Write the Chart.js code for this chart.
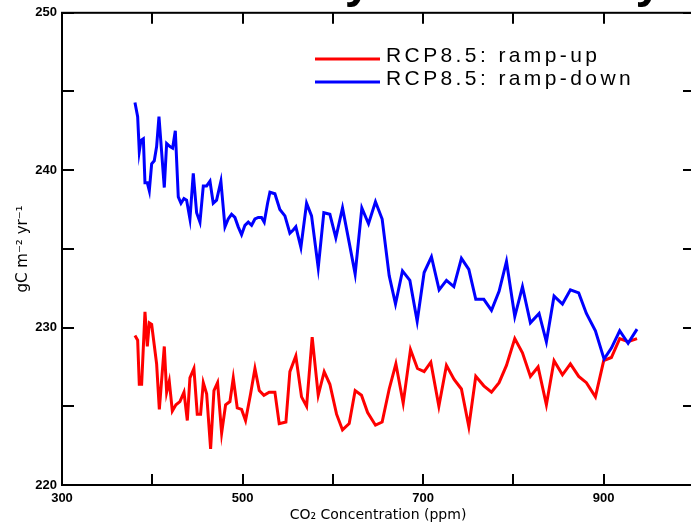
<!DOCTYPE html>
<html>
<head>
<meta charset="utf-8">
<script src="https://cdn.jsdelivr.net/npm/chart.js@4"></script>
<style>
  html, body { margin: 0; padding: 0; background: #fff; overflow: hidden; }
  #wrap { width: 691px; height: 524px; overflow: hidden; }
</style>
</head>
<body>
<div id="wrap"><canvas id="myChart" width="720" height="524"></canvas></div>
<script>
// CO2 (ppm) and NPP (gC m-2 yr-1)
const ppmUp = [380.8, 383.8, 385.6, 388.2, 391.9, 394.5, 396.7, 399.3, 404.8, 407.8, 413.3, 415.9, 418.8, 422.2, 426.2, 430.6, 435.1, 438.8, 441.7, 446.1, 449.8, 453.5, 456.5, 460.2, 464.6, 468.3, 472.3, 476.8, 481.2, 486.0, 489.7, 494.1, 498.9, 503.3, 508.9, 513.7, 518.5, 523.6, 529.5, 535.8, 540.6, 548.0, 552.4, 559.0, 565.3, 570.9, 577.1, 583.8, 590.4, 596.7, 604.1, 610.7, 618.1, 624.7, 631.7, 638.5, 647.2, 654.6, 662.4, 669.8, 677.9, 686.0, 693.7, 701.1, 708.5, 717.4, 725.8, 734.3, 742.4, 750.6, 758.3, 767.2, 775.7, 784.1, 792.3, 801.5, 810.0, 818.8, 827.3, 836.5, 845.0, 854.3, 863.1, 872.3, 880.8, 890.8, 900.0, 908.5, 917.7, 927.0, 936.9];
const nppUp = [229.5, 229.2, 226.4, 226.4, 231.0, 228.8, 230.3, 230.2, 227.7, 224.8, 228.8, 225.9, 226.6, 224.7, 225.1, 225.3, 225.9, 224.1, 226.8, 227.4, 224.5, 224.5, 226.5, 225.8, 222.3, 226.0, 226.5, 223.3, 225.1, 225.3, 226.8, 224.9, 224.8, 224.1, 225.8, 227.4, 226.0, 225.7, 225.9, 225.9, 223.9, 224.0, 227.2, 228.2, 225.6, 225.0, 229.4, 225.7, 227.2, 226.4, 224.5, 223.5, 223.9, 226.0, 225.7, 224.6, 223.8, 224.0, 226.1, 227.7, 225.2, 228.6, 227.4, 227.2, 227.8, 225.0, 227.6, 226.7, 226.1, 223.7, 226.9, 226.3, 225.9, 226.5, 227.6, 229.3, 228.4, 226.9, 227.5, 225.1, 227.9, 227.0, 227.7, 226.9, 226.5, 225.6, 227.9, 228.1, 229.3, 229.1, 229.3];

const ppmDown = [380.8, 383.8, 385.6, 387.5, 390.1, 391.9, 394.5, 396.7, 399.3, 402.2, 404.8, 407.4, 410.3, 413.3, 415.9, 419.6, 422.5, 425.5, 428.8, 431.8, 435.1, 438.0, 441.7, 445.4, 449.1, 452.8, 456.5, 460.2, 463.9, 467.5, 471.2, 476.0, 480.5, 484.1, 487.8, 491.5, 495.2, 498.9, 502.6, 506.3, 510.0, 513.7, 517.4, 521.0, 524.0, 527.7, 530.3, 535.8, 541.3, 546.9, 552.4, 556.1, 559.0, 564.6, 570.9, 576.4, 583.8, 590.0, 596.7, 603.3, 610.7, 618.1, 624.7, 632.1, 639.5, 647.2, 654.6, 662.4, 669.4, 677.1, 685.3, 693.4, 701.1, 709.2, 717.7, 725.8, 734.0, 742.4, 750.6, 758.3, 767.2, 775.7, 784.1, 792.3, 801.5, 810.0, 818.8, 828.4, 836.5, 845.0, 854.3, 863.1, 872.3, 880.8, 890.8, 900.4, 908.5, 917.7, 927.0, 936.9];
const nppDown = [244.3, 243.4, 241.2, 241.9, 242.0, 239.2, 239.2, 238.7, 240.4, 240.6, 241.5, 243.4, 241.2, 238.9, 241.7, 241.5, 241.4, 242.5, 238.3, 237.9, 238.2, 238.1, 236.9, 239.8, 237.3, 236.7, 239.0, 239.0, 239.3, 237.9, 238.1, 239.3, 236.4, 236.9, 237.2, 237.0, 236.4, 235.9, 236.5, 236.7, 236.5, 236.9, 237.0, 237.0, 236.7, 237.9, 238.6, 238.5, 237.5, 237.1, 236.0, 236.2, 236.4, 235.1, 237.9, 237.1, 233.8, 237.3, 237.2, 235.7, 237.6, 235.4, 233.4, 237.6, 236.6, 238.0, 236.9, 233.3, 231.5, 233.6, 233.0, 230.4, 233.5, 234.5, 232.4, 233.0, 232.6, 234.4, 233.7, 231.8, 231.8, 231.1, 232.3, 234.2, 230.7, 232.6, 230.3, 230.9, 229.1, 232.0, 231.5, 232.4, 232.2, 230.9, 229.8, 228.0, 228.7, 229.8, 229.0, 229.9];

const xLabels = [300, 500, 700, 900];
const yLabels = [220, 230, 240, 250];
const seriesNames = ['RCP8.5: ramp-up', 'RCP8.5: ramp-down'];
const titleText = 'Net Primary Productivity';

function pairs(xs, ys) {
    return xs.map((x, i) => ({ x: x, y: ys[i] }));
}

// box, inward ticks, legend and the (cropped) title
const framePlugin = {
    id: 'frame',
    afterDraw(chart) {
        const ctx = chart.ctx;
        const a = chart.chartArea;
        const xs = chart.scales.x, ys = chart.scales.y;
        ctx.save();
        ctx.strokeStyle = '#000';
        ctx.lineWidth = 2;
        ctx.strokeRect(a.left, a.top, a.right - a.left, a.bottom - a.top);
        ctx.beginPath();
        xs.ticks.forEach(t => {
            const px = Math.round(xs.getPixelForValue(t.value));
            ctx.moveTo(px, a.bottom); ctx.lineTo(px, a.bottom - 11);
            ctx.moveTo(px, a.top); ctx.lineTo(px, a.top + 11);
        });
        ys.ticks.forEach(t => {
            const py = Math.round(ys.getPixelForValue(t.value));
            ctx.moveTo(a.left, py); ctx.lineTo(a.left + 12, py);
            ctx.moveTo(a.right, py); ctx.lineTo(a.right - 11, py);
        });
        ctx.stroke();

        // legend
        const rows = [59, 82];
        ctx.font = '21px "Liberation Sans"';
        ctx.letterSpacing = '3.4px';
        ctx.textBaseline = 'middle';
        ctx.fillStyle = '#000';
        chart.data.datasets.forEach((ds, i) => {
            ctx.strokeStyle = ds.borderColor;
            ctx.lineWidth = 3;
            ctx.beginPath();
            ctx.moveTo(315, rows[i]); ctx.lineTo(380, rows[i]);
            ctx.stroke();
            ctx.fillText(ds.label, 386, rows[i] - 3);
        });

        // title, mostly above the top edge
        ctx.letterSpacing = '0px';
        ctx.font = 'bold 48px "Liberation Sans"';
        ctx.textAlign = 'center';
        ctx.textBaseline = 'alphabetic';
        ctx.fillText(titleText, 382, -3);
        ctx.restore();
    }
};

const chart = new Chart(document.getElementById('myChart'), {
    type: 'line',
    data: {
        datasets: [{
            label: seriesNames[0],
            data: pairs(ppmUp, nppUp),
            borderColor: '#ff0000',
            borderWidth: 3,
            pointRadius: 0,
            tension: 0,
            order: 1
        }, {
            label: seriesNames[1],
            data: pairs(ppmDown, nppDown),
            borderColor: '#0000ff',
            borderWidth: 3,
            pointRadius: 0,
            tension: 0,
            order: 0
        }]
    },
    options: {
        responsive: false,
        animation: false,
        layout: { padding: { top: 12, right: 26, left: 0, bottom: 0 } },
        plugins: { legend: { display: false }, tooltip: { enabled: false } },
        scales: {
            x: {
                type: 'linear',
                min: 300,
                max: 1000,
                grid: { display: false, drawTicks: false },
                border: { display: false },
                afterFit: s => { s.height = 39; },
                ticks: {
                    stepSize: 100,
                    padding: 6,
                    maxRotation: 0,
                    autoSkip: false,
                    color: '#000',
                    font: { family: 'Liberation Sans', size: 13, weight: 'bold' },
                    callback: v => xLabels.includes(v) ? String(v) : ''
                },
                title: {
                    display: true,
                    text: 'CO₂ Concentration (ppm)',
                    color: '#000',
                    font: { family: 'DejaVu Sans', size: 14 },
                    padding: { top: 0, bottom: 0 }
                }
            },
            y: {
                min: 220,
                max: 250,
                grid: { display: false, drawTicks: false },
                border: { display: false },
                afterFit: s => { s.width = 62; },
                ticks: {
                    stepSize: 5,
                    padding: 5,
                    color: '#000',
                    font: { family: 'Liberation Sans', size: 13, weight: 'bold' },
                    callback: v => yLabels.includes(v) ? String(v) : ''
                },
                title: {
                    display: true,
                    text: 'gC m⁻² yr⁻¹',
                    color: '#000',
                    font: { family: 'DejaVu Sans', size: 15 },
                    padding: { top: 14, bottom: 0 }
                }
            }
        }
    },
    plugins: [framePlugin]
});
</script>
</body>
</html>
